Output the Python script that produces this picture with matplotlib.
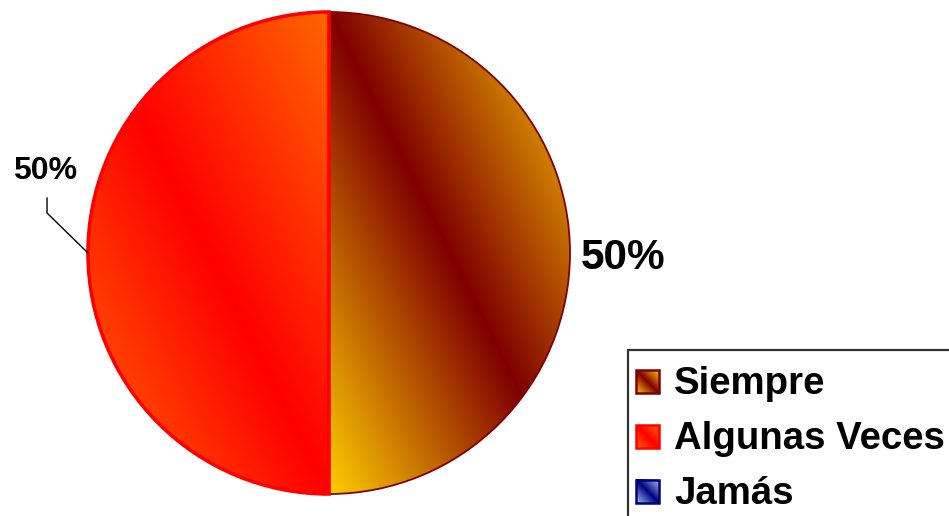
import numpy as np
import matplotlib.pyplot as plt
from matplotlib.colors import to_rgb
from matplotlib.patches import Rectangle
from matplotlib.image import BboxImage
from matplotlib.transforms import Bbox, TransformedBbox
from matplotlib.legend_handler import HandlerPatch

plt.rcParams['font.family'] = ['Liberation Sans', 'DejaVu Sans']

categories = ['Siempre', 'Algunas Veces', 'Jamás']
values = [50, 50, 0]
band_colors = ['#800000', '#FF0000', '#000080']
corner_colors = ['#FFCC00', '#FF6600', '#A6CAF0']
outline_colors = ['#800000', '#FF0000', '#000080']
outline_widths = [1.3, 2.6, 1.3]


def diagonal_gradient(c_band, c_corner, n=128):
    # dark band along the top-left/bottom-right diagonal, lighter at the other two corners
    u, v = np.meshgrid(np.linspace(0, 1, n), np.linspace(0, 1, n))
    t = np.abs(u - v)[..., None]
    a = np.array(to_rgb(c_band))
    b = np.array(to_rgb(c_corner))
    return a + (b - a) * t


class GradientHandler(HandlerPatch):
    def create_artists(self, legend, orig_handle, xdescent, ydescent,
                       width, height, fontsize, trans):
        side = width
        y0 = -ydescent + (height - side) / 2
        box = Bbox.from_bounds(-xdescent, y0, side, side)
        img = BboxImage(TransformedBbox(box, trans), interpolation='bilinear')
        img.set_data(orig_handle.grad)
        frame = Rectangle((-xdescent, y0), side, side,
                          facecolor='none', edgecolor=orig_handle.get_edgecolor(),
                          linewidth=1.8, transform=trans)
        return [img, frame]


fig = plt.figure(figsize=(9.49, 5.16), dpi=100)
ax = fig.add_axes([0, 0, 1, 1])

wedges, _ = ax.pie(values, startangle=90, counterclock=False, radius=1,
                   wedgeprops=dict(facecolor='none'))

total = sum(values)
for w, val, cb, cc, oc, lw in zip(wedges, values, band_colors, corner_colors,
                                  outline_colors, outline_widths):
    w.set_edgecolor(oc)
    w.set_linewidth(lw)
    w.set_zorder(3)
    if val == 0:
        w.set_visible(False)
        continue
    ext = w.get_path().get_extents()
    im = ax.imshow(diagonal_gradient(cb, cc), extent=(ext.x0, ext.x1, ext.y0, ext.y1),
                   origin='upper', interpolation='bilinear', zorder=2, aspect='auto')
    im.set_clip_path(w)

# percentage labels
w_right, w_left = wedges[0], wedges[1]
mid = np.deg2rad((w_right.theta1 + w_right.theta2) / 2)
ax.text(1.22 * np.cos(mid), 1.22 * np.sin(mid) - 0.02,
        f'{values[0] / total:.0%}', ha='center', va='center',
        fontsize=30.5, fontweight='bold')

mid = np.deg2rad((w_left.theta1 + w_left.theta2) / 2)
ax.text(-1.178, 0.34, f'{values[1] / total:.0%}', ha='center', va='center',
        fontsize=23, fontweight='bold')
ax.plot([-1.17, -1.17, np.cos(mid)], [0.228, 0.166, np.sin(mid)],
        color='black', lw=1.0, zorder=4)

ax.set_xlim(-329 / 241, (949 - 329) / 241)
ax.set_ylim(-(516 - 253) / 241, 253 / 241)
ax.set_aspect('auto')
ax.axis('off')

handles = []
for cat, cb, cc, oc in zip(categories, band_colors, corner_colors, outline_colors):
    h = Rectangle((0, 0), 1, 1, facecolor=cc, edgecolor=oc, label=cat)
    h.grad = diagonal_gradient(cb, cc)
    handles.append(h)

leg = fig.legend(handles=handles, loc='upper left',
                 bbox_to_anchor=(628 / 949, 1 - 350 / 516),
                 borderaxespad=0, frameon=True, fancybox=False,
                 prop=dict(size=27.6, weight='bold'),
                 handlelength=0.6, handleheight=1.5, handletextpad=0.38,
                 labelspacing=0.21, borderpad=0.22,
                 handler_map={Rectangle: GradientHandler()})
leg.get_frame().set_edgecolor('black')
leg.get_frame().set_linewidth(1.6)

fig.savefig('out.png', dpi=100)
